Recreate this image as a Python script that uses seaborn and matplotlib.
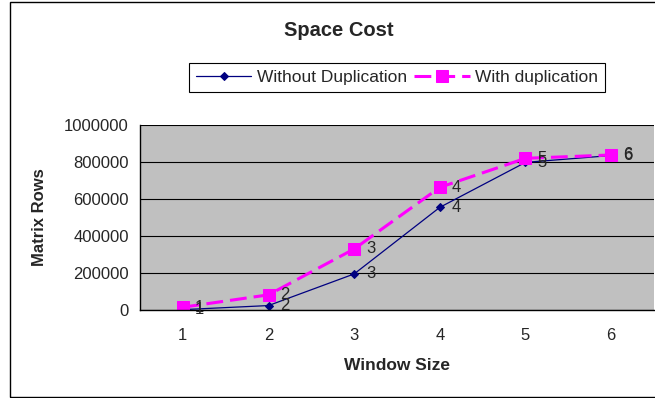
import numpy as np
import matplotlib
matplotlib.use('Agg')
import matplotlib.pyplot as plt
import seaborn as sns
import pandas as pd
from matplotlib.patches import Rectangle

# data
window_size = [1, 2, 3, 4, 5, 6]
without_dup = [2000, 24000, 195000, 555000, 798000, 835000]
with_dup = [15000, 82000, 330000, 663000, 820000, 838000]
y_ticks = [0, 200000, 400000, 600000, 800000, 1000000]

sns.set_style("white")
plt.rcParams['font.family'] = ['Liberation Sans', 'DejaVu Sans']

df = pd.DataFrame({
    "Window Size": window_size * 2,
    "Matrix Rows": without_dup + with_dup,
    "series": ["Without Duplication"] * 6 + ["With duplication"] * 6,
})

fig = plt.figure(figsize=(6.55, 3.98), dpi=100)
ax = fig.add_axes([140 / 655, 88 / 398, 514 / 655, 185 / 398])
ax.set_facecolor('#C0C0C0')

sns.lineplot(data=df[df.series == "Without Duplication"], x="Window Size", y="Matrix Rows",
             color='#000080', lw=0.9, marker='D', markersize=4.5, markeredgecolor='#000080',
             label="Without Duplication", ax=ax)
sns.lineplot(data=df[df.series == "With duplication"], x="Window Size", y="Matrix Rows",
             color='#FF00FF', lw=2.2, marker='s', markersize=9, markeredgecolor='#FF00FF',
             label="With duplication", ax=ax)
ax.lines[1].set_dashes([5.5, 2.3])

# point labels (window size next to each point)
for ys in [without_dup, with_dup]:
    for x, y in zip(window_size, ys):
        ax.annotate(str(x), (x, y), xytext=(8.5, 0), textcoords='offset points',
                    fontsize=12, va='center', ha='left')

ax.set_xlim(0.5, 6.5)
ax.set_ylim(0, 1000000)
ax.set_yticks(y_ticks)
ax.set_yticklabels([str(v) for v in y_ticks], fontsize=12)
ax.set_xticks(window_size)
ax.set_xticklabels([str(v) for v in window_size], fontsize=12)
ax.set_xticks(np.arange(0.5, 7, 1), minor=True)
ax.tick_params(axis='x', which='major', length=0, pad=13)
ax.tick_params(axis='x', which='minor', length=5, direction='out', color='black')
ax.tick_params(axis='y', length=6, direction='out', color='black', pad=2)
ax.yaxis.grid(True, color='black', lw=0.8)
ax.set_axisbelow(True)
for s in ['top', 'right']:
    ax.spines[s].set_visible(False)
for s in ['left', 'bottom']:
    ax.spines[s].set_color('black')
    ax.spines[s].set_linewidth(1)

ax.set_xlabel("Window Size", fontsize=12.5, fontweight='bold')
ax.set_ylabel("Matrix Rows", fontsize=12, fontweight='bold')
ax.xaxis.set_label_coords(0.5, (310 - 366) / 185)
ax.xaxis.label.set_va('center')
ax.yaxis.set_label_coords((39 - 140) / 514, 0.5)
ax.yaxis.label.set_va('center')

leg = ax.legend(loc='center', bbox_to_anchor=(397 / 655, 1 - 77.5 / 398), bbox_transform=fig.transFigure,
                ncol=2, frameon=True, fancybox=False, fontsize=12.5, handlelength=3.2,
                columnspacing=0.45, handletextpad=0.3, borderpad=0.4)
leg.get_frame().set_edgecolor('black')
leg.get_frame().set_linewidth(0.8)
leg.get_frame().set_alpha(1)

fig.text(339 / 655, 1 - 30 / 398, "Space Cost", fontsize=14.5, fontweight='bold',
         ha='center', va='center')

# outer chart border
fig.patches.append(Rectangle((10 / 655, 1.5 / 398), 660 / 655, 395 / 398, transform=fig.transFigure,
                             fill=False, edgecolor='black', lw=1))

fig.savefig("out.png", dpi=100)
